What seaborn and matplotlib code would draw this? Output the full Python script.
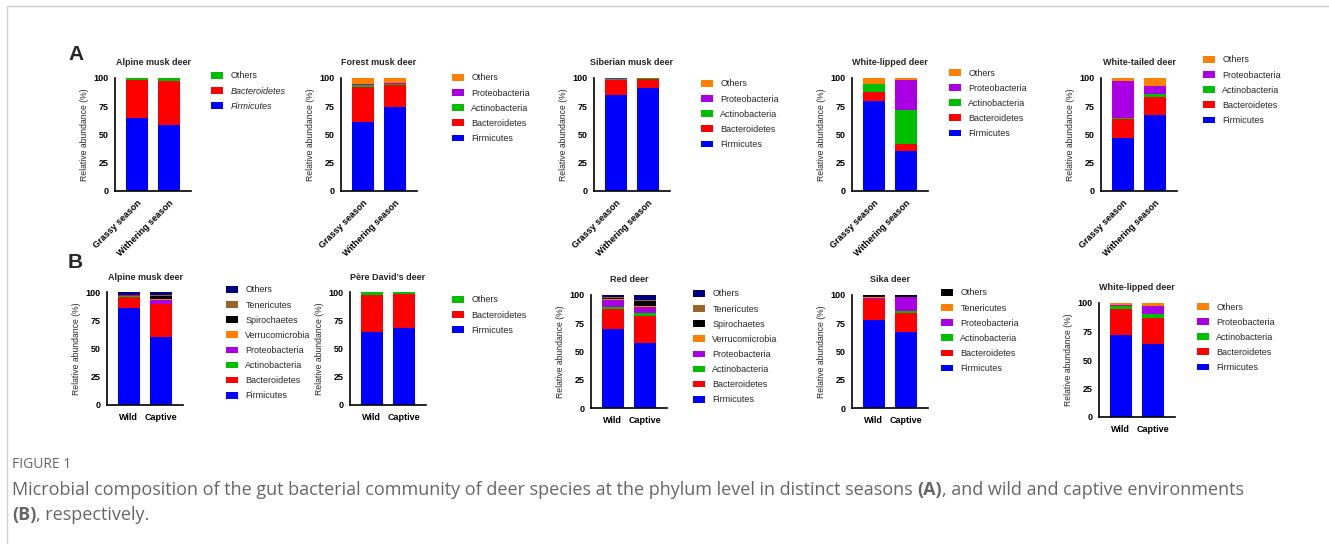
import numpy as np
import seaborn as sns
import matplotlib.pyplot as plt
from matplotlib.patches import Patch, Rectangle

# ---------------- data (relative abundance, %) ----------------
seasons = ["Grassy season", "Withering season"]
habitats = ["Wild", "Captive"]

# (A) seasons
a1_phyla = ["Firmicutes", "Bacteroidetes", "Others"]
a1_values = [[65, 58], [33, 39.5], [2, 2.5]]

a2_phyla = ["Firmicutes", "Bacteroidetes", "Actinobacteria", "Proteobacteria", "Others"]
a2_values = [[61, 74], [31, 20], [1.5, 1], [1.5, 1], [5, 4]]

a3_phyla = ["Firmicutes", "Bacteroidetes", "Actinobacteria", "Proteobacteria", "Others"]
a3_values = [[85, 91], [13.5, 8.5], [0.8, 0.1], [0.3, 0.3], [0.4, 0.1]]

a4_phyla = ["Firmicutes", "Bacteroidetes", "Actinobacteria", "Proteobacteria", "Others"]
a4_values = [[80, 35], [7.5, 6.5], [7.5, 30], [0, 27], [5, 1.5]]

a5_phyla = ["Firmicutes", "Bacteroidetes", "Actinobacteria", "Proteobacteria", "Others"]
a5_values = [[46.5, 67], [17.5, 16.5], [1, 2.5], [32, 7], [3, 7]]

# (B) wild vs captive
b1_phyla = ["Firmicutes", "Bacteroidetes", "Actinobacteria", "Proteobacteria",
            "Verrucomicrobia", "Spirochaetes", "Tenericutes", "Others"]
b1_values = [[85.5, 60], [10.5, 29], [0.3, 0.5], [0.7, 3.5],
             [0.3, 0.5], [0.5, 3], [0.7, 1], [1.5, 2.5]]

b2_phyla = ["Firmicutes", "Bacteroidetes", "Others"]
b2_values = [[65, 68.5], [32, 29.5], [3, 2]]

b3_phyla = ["Firmicutes", "Bacteroidetes", "Actinobacteria", "Proteobacteria",
            "Verrucomicrobia", "Spirochaetes", "Tenericutes", "Others"]
b3_values = [[70, 57.5], [17.5, 24], [1.5, 2.5], [6.5, 5.5],
             [1, 0.5], [0.5, 4.5], [1, 1.5], [2, 4]]

b4_phyla = ["Firmicutes", "Bacteroidetes", "Actinobacteria", "Proteobacteria",
            "Tenericutes", "Others"]
b4_values = [[78, 67.5], [18.5, 17], [0.3, 1.5], [0.7, 12], [1, 0.3], [1.5, 1.7]]

b5_phyla = ["Firmicutes", "Bacteroidetes", "Actinobacteria", "Proteobacteria", "Others"]
b5_values = [[72, 64], [22.5, 23], [2.5, 3.5], [1, 7], [2, 2.5]]

# ---------------- style ----------------
sns.set_style("white")
plt.rcParams['font.family'] = ['Liberation Sans', 'DejaVu Sans']

BLUE, RED, GREEN = "#0000FF", "#FF0000", "#00BE00"
PURPLE, ORANGE = "#A800E2", "#FF8000"
NAVY, BROWN, BLACK = "#00007F", "#9A6628", "#000000"

base = {"Firmicutes": BLUE, "Bacteroidetes": RED, "Actinobacteria": GREEN,
        "Proteobacteria": PURPLE, "Verrucomicrobia": ORANGE,
        "Spirochaetes": BLACK, "Tenericutes": BROWN, "Others": ORANGE}

W, H = 1329, 544
fig = plt.figure(figsize=(W / 100, H / 100), dpi=100)
FS = 6.5

# title, groups, phyla, values, others colour, tenericutes colour, italic,
# axes (left, top, bottom) px, legend (x, first row y) px
panels = [
    ("Alpine musk deer", seasons, a1_phyla, a1_values, GREEN, BROWN, True, (115, 78, 191), (211, 75)),
    ("Forest musk deer", seasons, a2_phyla, a2_values, ORANGE, BROWN, False, (341, 78, 191), (452, 77)),
    ("Siberian musk deer", seasons, a3_phyla, a3_values, ORANGE, BROWN, False, (594, 78, 191), (701, 83)),
    ("White-lipped deer", seasons, a4_phyla, a4_values, ORANGE, BROWN, False, (852, 78, 191), (949, 72)),
    ("White-tailed deer", seasons, a5_phyla, a5_values, ORANGE, BROWN, False, (1101, 78, 191), (1203, 59)),
    ("Alpine musk deer", habitats, b1_phyla, b1_values, NAVY, BROWN, False, (107, 292, 405), (226, 289)),
    ("Père David’s deer", habitats, b2_phyla, b2_values, GREEN, BROWN, False, (350, 292, 405), (452, 299)),
    ("Red deer", habitats, b3_phyla, b3_values, NAVY, BROWN, False, (591, 295, 408), (693, 293)),
    ("Sika deer", habitats, b4_phyla, b4_values, BLACK, ORANGE, False, (852, 295, 408), (941, 292)),
    ("White-lipped deer", habitats, b5_phyla, b5_values, ORANGE, BROWN, False, (1099, 303, 417), (1197, 306)),
]

AX_W = 76
for title, groups, phyla, values, c_oth, c_ten, italic, (l, t, b), (lx, ly) in panels:
    ax = fig.add_axes([l / W, 1 - b / H, AX_W / W, (b - t) / H])
    colors = [base[p] for p in phyla]
    colors = [c_oth if p == "Others" else (c_ten if p == "Tenericutes" else c)
              for p, c in zip(phyla, colors)]
    cum = np.cumsum(np.array(values, dtype=float), axis=0)
    # draw tallest stack first, smaller cumulative layers on top
    for i in range(len(phyla) - 1, -1, -1):
        sns.barplot(x=groups, y=cum[i], order=groups, color=colors[i], width=0.69,
                    saturation=1, errorbar=None, linewidth=0, ax=ax)
    ax.set_xlim(-0.68, 1.68)
    ax.set_ylim(0, 100)
    ax.set_yticks([0, 25, 50, 75, 100])
    for s in ["top", "right"]:
        ax.spines[s].set_visible(False)
    for s in ["left", "bottom"]:
        ax.spines[s].set_linewidth(1.2)
        ax.spines[s].set_color("black")
    ax.tick_params(axis="both", direction="out", length=3, width=1.2, pad=1.5,
                   labelsize=FS, colors="black")
    ax.tick_params(axis="x", length=4)
    for lab in ax.get_yticklabels():
        lab.set_fontweight("bold")
    ax.set_xticks([0, 1])
    if groups is seasons:
        ax.set_xticklabels(groups, rotation=45, ha="right", rotation_mode="anchor",
                           fontweight="bold", fontsize=FS)
    else:
        ax.set_xticklabels(groups, fontweight="bold", fontsize=FS)
    ax.set_xlabel("")
    ax.set_ylabel("Relative abundance (%)", fontsize=FS - 0.3, labelpad=3)
    ax.set_title(title, fontsize=FS, fontweight="bold", pad=9)

    handles = [Patch(facecolor=c, edgecolor="none") for c in colors][::-1]
    labels = phyla[::-1]
    leg = ax.legend(handles, labels, loc="upper left",
                    bbox_to_anchor=(lx / W, 1 - (ly - 3.5) / H),
                    bbox_transform=fig.transFigure, frameon=False, fontsize=FS,
                    handlelength=1.35, handleheight=0.75, handletextpad=0.8,
                    labelspacing=0.68, borderpad=0, borderaxespad=0)
    if italic:
        for txt in leg.get_texts():
            if txt.get_text() != "Others":
                txt.set_fontstyle("italic")

fig.text(68 / W, 1 - 54 / H, "A", fontsize=15, fontweight="bold", va="center")
fig.text(68 / W, 1 - 262 / H, "B", fontsize=15, fontweight="bold", va="center")

# frame of the figure box
fig.add_artist(Rectangle((7 / W, -0.05), 1.2, 1.05 - 6 / H, transform=fig.transFigure,
                         fill=False, edgecolor="#cfcfcf", linewidth=1))

# caption
cap_font = ['Open Sans', 'DejaVu Sans']
GREY = "#666666"
fig.text(12 / W, 1 - 465 / H, "FIGURE 1", fontsize=10, color=GREY, va="center",
         family=cap_font)


def rich_line(x_px, y_px, pieces):
    fig.canvas.draw()
    r = fig.canvas.get_renderer()
    x = x_px
    for s, w in pieces:
        t = fig.text(x / W, 1 - y_px / H, s, fontsize=13, color=GREY, va="center",
                     fontweight=w, family=cap_font)
        x = t.get_window_extent(r).x1


rich_line(12, 490, [("Microbial composition of the gut bacterial community of deer species at the "
                     "phylum level in distinct seasons ", "normal"), ("(A)", "bold"),
                    (", and wild and captive environments", "normal")])
rich_line(12, 515, [("(B)", "bold"), (", respectively.", "normal")])

fig.savefig("out.png", dpi=100)
